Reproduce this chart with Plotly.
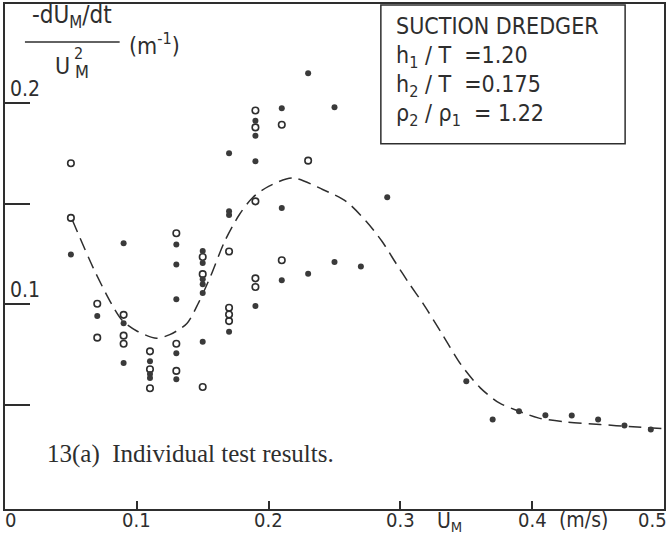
import plotly.graph_objects as go

# ---------------- data ----------------
open_x = [0.05, 0.05,
          0.07, 0.07,
          0.09, 0.09, 0.09,
          0.11, 0.11, 0.11,
          0.13, 0.13, 0.13,
          0.15, 0.15, 0.15,
          0.17, 0.17, 0.17, 0.17,
          0.19, 0.19, 0.19, 0.19, 0.19,
          0.21, 0.21,
          0.23]
open_y = [0.170, 0.1429,
          0.1003, 0.0835,
          0.0948, 0.0845, 0.0805,
          0.0767, 0.0678, 0.0584,
          0.1353, 0.0805, 0.0670,
          0.1235, 0.1150, 0.0590,
          0.1262, 0.0983, 0.0950, 0.0917,
          0.1962, 0.1878, 0.1511, 0.1129, 0.1086,
          0.1891, 0.1219,
          0.1713]

filled_x = [0.05,
            0.07,
            0.09, 0.09, 0.09,
            0.11, 0.11, 0.11,
            0.13, 0.13, 0.13, 0.13, 0.13,
            0.15, 0.15, 0.15, 0.15, 0.15, 0.15,
            0.17, 0.17, 0.17, 0.17,
            0.19, 0.19, 0.19, 0.19,
            0.21, 0.21, 0.21,
            0.23, 0.23,
            0.25, 0.25,
            0.27,
            0.29,
            0.35, 0.37, 0.39, 0.41, 0.43, 0.45, 0.47, 0.49]
filled_y = [0.1248,
            0.0942,
            0.1303, 0.0907, 0.0709,
            0.0718, 0.0655, 0.0635,
            0.1297, 0.1198, 0.1025, 0.0757, 0.0629,
            0.1265, 0.1205, 0.1125, 0.1100, 0.1056, 0.0815,
            0.1750, 0.1462, 0.1443, 0.0864,
            0.1911, 0.1837, 0.1710, 0.0992,
            0.1973, 0.1478, 0.1120,
            0.2147, 0.1152,
            0.1978, 0.1210,
            0.1188,
            0.1531,
            0.0619, 0.0429, 0.0470, 0.0450, 0.0449, 0.0429, 0.0399, 0.0379]

curve_x = [0.051, 0.067, 0.081, 0.089, 0.100, 0.115, 0.125, 0.138, 0.147, 0.156,
           0.1667, 0.178, 0.188, 0.200, 0.218, 0.241, 0.259, 0.274, 0.286, 0.297,
           0.307, 0.317, 0.3326, 0.346, 0.3606, 0.375, 0.388, 0.4045, 0.426,
           0.4515, 0.4765, 0.499]
curve_y = [0.142, 0.118, 0.100, 0.092, 0.0868, 0.0832, 0.0850, 0.0905, 0.101, 0.114,
           0.1313, 0.1447, 0.153, 0.1585, 0.1627, 0.157, 0.151, 0.1412, 0.1313, 0.120,
           0.110, 0.1006, 0.0843, 0.0701, 0.0586, 0.0511, 0.0475, 0.0437, 0.0416,
           0.0404, 0.0393, 0.0384]

ytick_vals = [0.05, 0.10, 0.15, 0.20]
ylabel_vals = [0.10, 0.20]
ylabel_text = ["0.1", "0.2"]
xtick_vals = [0.1, 0.2, 0.3, 0.4]
xlabel_pos = [0.004, 0.1, 0.2, 0.3, 0.4, 0.4915]
xlabel_text = ["0", "0.1", "0.2", "0.3", "0.4", "0.5"]

info_lines = ["SUCTION DREDGER",
              "h<sub>1</sub> / T  =1.20",
              "h<sub>2</sub> / T  =0.175",
              "ρ<sub>2</sub> / ρ<sub>1</sub>  = 1.22"]
caption = "13(a)  Individual test results."

# ---------------- layout helpers ----------------
W, H = 668, 544
ML, MR, MT, MB = 5, 2, 3, 35
PW, PH = W - ML - MR, H - MT - MB


def pxx(x):
    return (x - ML) / PW


def pxy(y):
    return (H - MB - y) / PH


INK = "#2e2e2e"
SANS = "DejaVu Sans Condensed, Liberation Sans Narrow, Liberation Sans, sans-serif"
SERIF = "Liberation Serif, DejaVu Serif, serif"

fig = go.Figure()
fig.add_trace(go.Scatter(x=curve_x, y=curve_y, mode="lines",
                         line=dict(color=INK, width=1.5, dash="13px,7px",
                                   shape="spline", smoothing=0.8),
                         hoverinfo="skip", showlegend=False))
fig.add_trace(go.Scatter(x=open_x, y=open_y, mode="markers",
                         marker=dict(symbol="circle-open", size=6.5,
                                     color=INK, line=dict(width=1.6, color=INK)),
                         showlegend=False))
fig.add_trace(go.Scatter(x=filled_x, y=filled_y, mode="markers",
                         marker=dict(symbol="circle", size=6, color="#3a3a3a",
                                     line=dict(width=0)),
                         showlegend=False))

ann = []
# y labels (above their tick, like underlined numbers)
for v, t in zip(ylabel_vals, ylabel_text):
    ann.append(dict(x=pxx(8), xref="paper", y=v, yref="y", text=t,
                    xanchor="left", yanchor="bottom", yshift=0, showarrow=False,
                    font=dict(family=SANS, size=21, color=INK)))
# x labels
for v, t in zip(xlabel_pos, xlabel_text):
    ann.append(dict(x=v, xref="x", y=pxy(520), yref="paper", text=t,
                    xanchor="center", yanchor="middle", showarrow=False,
                    font=dict(family=SANS, size=20, color=INK)))
ann.append(dict(x=pxx(451), xref="paper", y=pxy(522), yref="paper",
                text="U<sub>M</sub>", xanchor="center", yanchor="middle",
                showarrow=False, font=dict(family=SANS, size=21, color=INK)))
ann.append(dict(x=pxx(585), xref="paper", y=pxy(520), yref="paper",
                text="(m/s)", xanchor="center", yanchor="middle",
                showarrow=False, font=dict(family=SANS, size=21, color=INK)))
# y-axis title as a fraction
ann.append(dict(x=pxx(72), xref="paper", y=pxy(16), yref="paper",
                text="-dU<sub>M</sub>/dt", xanchor="center", yanchor="middle",
                showarrow=False, font=dict(family=SANS, size=24, color=INK)))
ann.append(dict(x=pxx(63), xref="paper", y=pxy(65), yref="paper",
                text="U", xanchor="center", yanchor="middle",
                showarrow=False, font=dict(family=SANS, size=23, color=INK)))
ann.append(dict(x=pxx(79), xref="paper", y=pxy(53), yref="paper",
                text="2", xanchor="center", yanchor="middle",
                showarrow=False, font=dict(family=SANS, size=16, color=INK)))
ann.append(dict(x=pxx(82), xref="paper", y=pxy(71), yref="paper",
                text="M", xanchor="center", yanchor="middle",
                showarrow=False, font=dict(family=SANS, size=18, color=INK)))
ann.append(dict(x=pxx(127), xref="paper", y=pxy(43), yref="paper",
                text="(m<sup>-1</sup>)", xanchor="left", yanchor="middle",
                showarrow=False, font=dict(family=SANS, size=23, color=INK)))
# info box text
for t, yy in zip(info_lines, [25, 56, 85, 114]):
    ann.append(dict(x=pxx(395), xref="paper", y=pxy(yy), yref="paper",
                    text=t, xanchor="left", yanchor="middle", showarrow=False,
                    font=dict(family=SANS, size=23, color=INK)))
# caption
ann.append(dict(x=pxx(45), xref="paper", y=pxy(454), yref="paper",
                text=caption, xanchor="left", yanchor="middle", showarrow=False,
                font=dict(family=SERIF, size=25, color=INK)))

shapes = [
    dict(type="line", xref="paper", yref="paper", x0=pxx(25), x1=pxx(120),
         y0=pxy(41), y1=pxy(41), line=dict(color=INK, width=1.5)),
    dict(type="rect", xref="paper", yref="paper", x0=pxx(382), x1=pxx(627),
         y0=pxy(143), y1=pxy(4), line=dict(color=INK, width=1.5)),
]

fig.update_layout(
    width=W, height=H, margin=dict(l=ML, r=MR, t=MT, b=MB),
    paper_bgcolor="white", plot_bgcolor="white",
    annotations=ann, shapes=shapes, showlegend=False,
    xaxis=dict(range=[0, 0.5], tickvals=xtick_vals, ticks="inside", ticklen=8,
               tickwidth=1.5, tickcolor=INK, showticklabels=False,
               showgrid=False, zeroline=False, showline=True, linecolor=INK,
               linewidth=1.8, mirror=True),
    yaxis=dict(range=[-0.0015, 0.249], tickvals=ytick_vals, ticks="inside",
               ticklen=25, tickwidth=1.5, tickcolor=INK, showticklabels=False,
               showgrid=False, zeroline=False, showline=True, linecolor=INK,
               linewidth=1.8, mirror=True),
)

fig.write_html("out.html")
